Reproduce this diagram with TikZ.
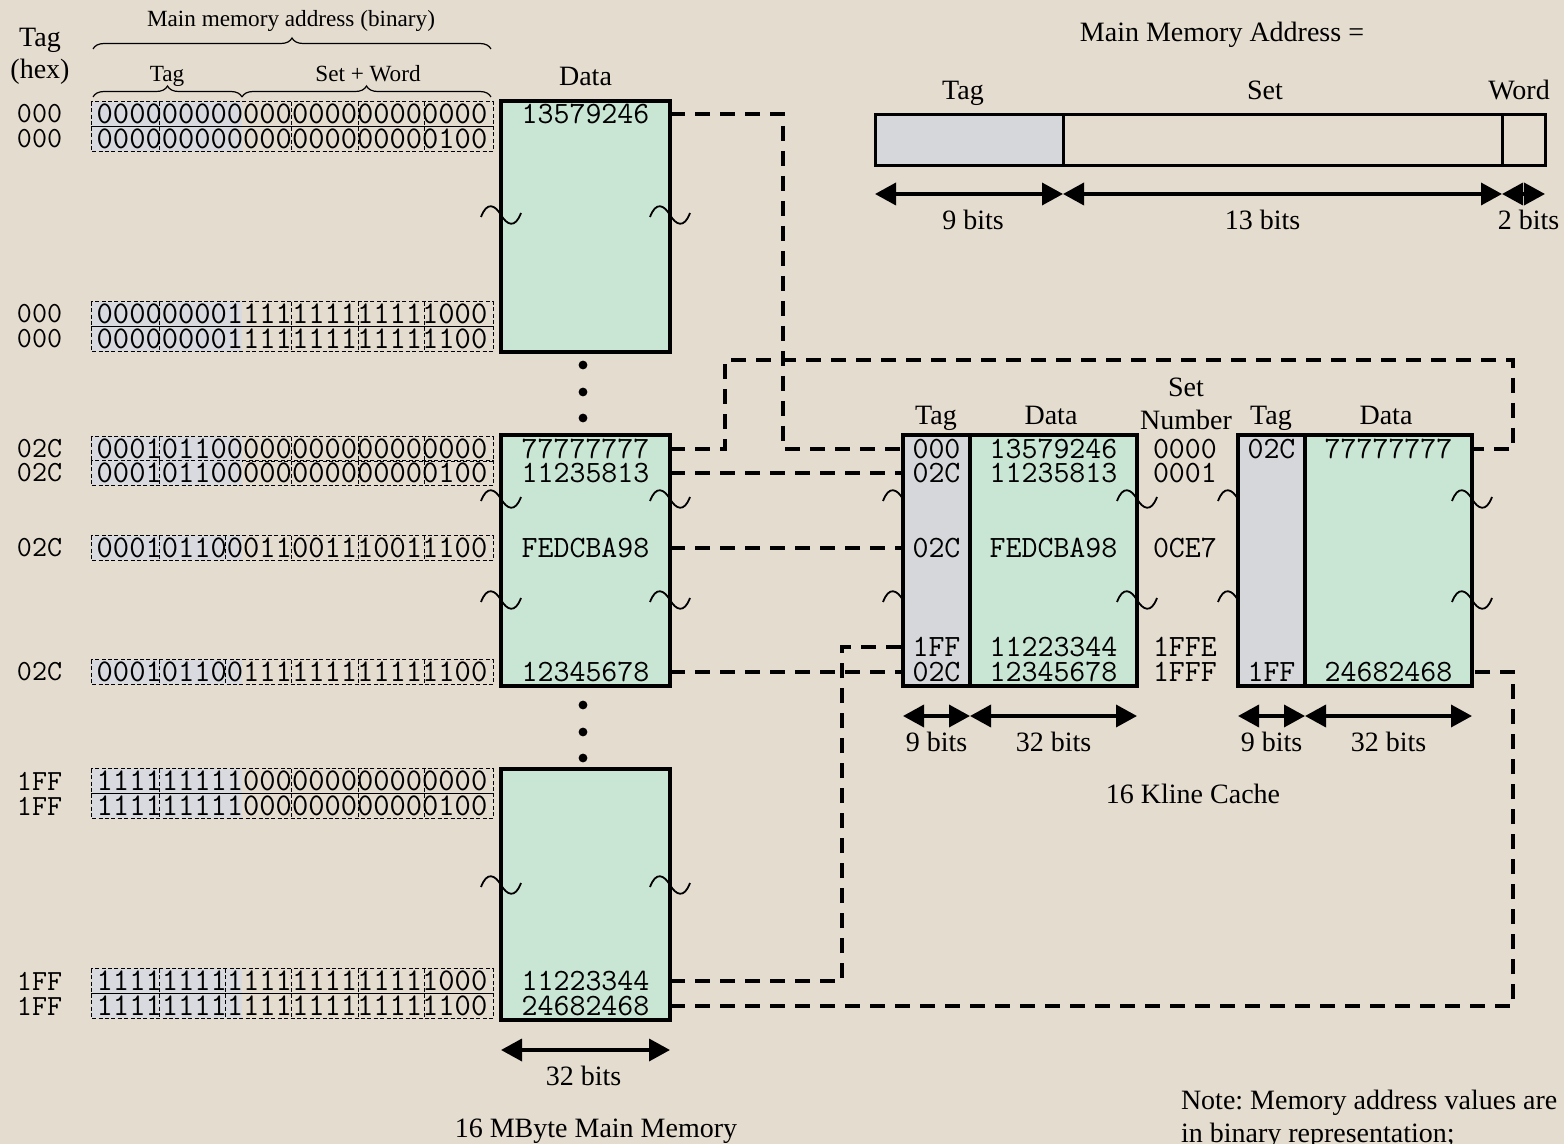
\documentclass[tikz,border=0pt]{standalone}
\usepackage{fontspec}
\setmainfont{Liberation Serif}
\usepackage{xcolor}
\usetikzlibrary{positioning, arrows.meta, decorations.pathreplacing, calc}

\definecolor{paper}{RGB}{228,220,206}
\definecolor{cellgreen}{RGB}{201,229,212}
\definecolor{tagfill}{RGB}{214,215,218}
\definecolor{binfill}{RGB}{216,218,223}

\tikzset{
  wavebreak/.pic={
    \draw[line width=0.9pt] (-20,2) .. controls (-14,-14) and (-6,-10) .. (0,0)
      .. controls (6,10) and (14,14) .. (20,-2);
  }
}

\begin{document}
\frenchspacing
\begin{tikzpicture}[
    x=0.5pt, y=-0.5pt,
    >={Triangle[length=10.5pt, width=11pt]},
    every node/.style={inner sep=0pt, outer sep=0pt},
    txt/.style={font=\fontsize{14}{16.5}\selectfont},
    smalltxt/.style={font=\fontsize{11.6}{13}\selectfont},
    mono/.style={font=\fontsize{15.5}{17}\selectfont\ttfamily},
    hexcol/.style={font=\fontsize{14.6}{17}\selectfont\ttfamily, anchor=west},
    binmono/.style={font=\fontsize{15.8}{17}\selectfont\ttfamily},
    bitsep/.style={line width=0.5pt, dash pattern=on 2pt off 1.2pt},
    bitbrace/.style={decorate, decoration={brace, amplitude=5.5pt}, line width=0.6pt},
    membox/.style={draw, line width=2pt, fill=cellgreen, minimum width=84.5pt, minimum height=125.5pt},
    tagcol/.style={draw, line width=1.8pt, fill=tagfill, minimum width=33.5pt, minimum height=125.5pt},
    datacol/.style={draw, line width=1.8pt, fill=cellgreen, minimum width=83.5pt, minimum height=125.5pt},
    fmtbox/.style={draw, line width=1.5pt, minimum height=25.5pt},
    memcell/.style={mono, minimum width=84.5pt},
    tagcell/.style={mono, minimum width=33.5pt},
    datacell/.style={mono, minimum width=83.5pt},
    memlink/.style={line width=2pt, dash pattern=on 7.5pt off 5pt},
    dimarrow/.style={<->, line width=1.8pt},
]

% === Page ===
\fill[paper] (0,0) rectangle (1564,1144);
\useasboundingbox (0,0) rectangle (1564,1144);

% === Main memory: address columns ===
\node[txt, anchor=base] (taghex) at (40,47) {Tag};
\node[txt, anchor=base] (hexlbl) at (40,79) {(hex)};
\node[smalltxt, anchor=base] (addrlbl) at (291,27) {Main memory address (binary)};
\node[smalltxt, anchor=base] (taglbl) at (167,82) {Tag};
\node[smalltxt, anchor=base] (setwordlbl) at (368,82) {Set + Word};
\draw[bitbrace] (93,49) -- (491,49);
\draw[bitbrace] (93,97) -- (242,97);
\draw[bitbrace] (242,97) -- (491,97);

% --- binary rows, tag bits shaded ---
\foreach \y/\bits/\hex/\seps in {
    114/000000000000000000000000/000/{4,12,16,20},
    139/000000000000000000000100/000/{4,12,16,20},
    314/000000001111111111111000/000/{4,12,16,20},
    339/000000001111111111111100/000/{4,12,16,20},
    449/000101100000000000000000/02C/{4,12,16,20},
    473/000101100000000000000100/02C/{4,12,16,20},
    548/000101100011001110011100/02C/{4,8,12,16,20},
    672/000101100111111111111100/02C/{4,8,12,16,20},
    781/111111111000000000000000/1FF/{4,12,16,20},
    806/111111111000000000000100/1FF/{4,12,16,20},
    981/111111111111111111111000/1FF/{4,8,12,16,20},
    1006/111111111111111111111100/1FF/{4,8,12,16,20}}{
  \fill[binfill] (91,\y-12.25) rectangle (242,\y+12.25);
  \draw[bitsep] (91,\y-12.25) rectangle (493,\y+12.25);
  \node[binmono] (bin\y) at (292,\y) {\bits};
  \foreach \k in \seps
    \draw[bitsep] (92.9+\k*16.59,\y-12.25) -- (92.9+\k*16.59,\y+12.25);
  \node[hexcol] (hex\y) at (17,\y) {\hex};
}

% === Main memory: data ===
\node[membox] (mem1) at (585.5,226.5) {};
\node[membox] (mem2) at (585.5,560.5) {};
\node[membox] (mem3) at (585.5,894.5) {};
\node[txt, above=7.5pt of mem1] (memdata) {Data};

\node[memcell] (m1a) at (585.5,114) {13579246};
\node[memcell] (m2a) at (585.5,449) {77777777};
\node[memcell] (m2b) at (585.5,473) {11235813};
\node[memcell] (m2c) at (585.5,548) {FEDCBA98};
\node[memcell] (m2d) at (585.5,672) {12345678};
\node[memcell] (m3a) at (585.5,981) {11223344};
\node[memcell] (m3b) at (585.5,1006) {24682468};

\foreach \y in {365,392,418,705,732,758}
  \fill (583,\y) circle (2.2pt);
\foreach \x/\y in {501/215,670/215,501/499,670/499,501/600,670/600,501/885,670/885}
  \pic at (\x,\y) {wavebreak};

\draw[dimarrow] ([yshift=-15pt]mem3.south west) -- ([yshift=-15pt]mem3.south east)
    node[midway, below=8pt, txt, xshift=-1pt] {32 bits};
\node[txt, anchor=base] (memtitle) at (596,1137) {16 MByte Main Memory};

% === Cache (two ways) ===
\foreach \x in {903,1238}
  \foreach \y in {499,600}
    \pic at (\x,\y) {wavebreak};
\node[tagcol] (w0tag) at (936.5,560.5) {};
\node[datacol] (w0data) at (1053.5,560.5) {};
\node[tagcol] (w1tag) at (1271.5,560.5) {};
\node[datacol] (w1data) at (1388.5,560.5) {};
\foreach \x in {1137,1472}
  \foreach \y in {499,600}
    \pic at (\x,\y) {wavebreak};

\node[txt, anchor=base] at (936,425) {Tag};
\node[txt, anchor=base] at (1051,425) {Data};
\node[txt, anchor=base] at (1186,397) {Set};
\node[txt, anchor=base] at (1186,430) {Number};
\node[txt, anchor=base] at (1271,425) {Tag};
\node[txt, anchor=base] at (1386,425) {Data};

\foreach \n/\y/\t/\d/\s in {0/449/000/13579246/0000, 1/473/02C/11235813/0001,
    2/548/02C/FEDCBA98/0CE7, 3/647/1FF/11223344/1FFE, 4/672/02C/12345678/1FFF}{
  \node[tagcell] (w0t\n) at (936.5,\y) {\t};
  \node[datacell] (w0d\n) at (1053.5,\y) {\d};
  \node[mono, anchor=west] (set\n) at (1153,\y) {\s};
}
\node[tagcell] (w1t0) at (1271.5,449) {02C};
\node[datacell] (w1d0) at (1388.5,449) {77777777};
\node[tagcell] (w1t4) at (1271.5,672) {1FF};
\node[datacell] (w1d4) at (1388.5,672) {24682468};

\foreach \c/\w in {w0tag/9, w0data/32, w1tag/9, w1data/32}
  \draw[dimarrow] ([yshift=-15pt]\c.south west) -- ([yshift=-15pt]\c.south east)
      node[midway, below=8pt, txt] {\w\ bits};
\node[txt, anchor=base] (cachetitle) at (1193,803) {16 Kline Cache};

% === Address format ===
\node[txt, anchor=base] (fmttitle) at (1222,42) {Main Memory Address =};
\node[fmtbox, fill=tagfill, minimum width=94pt] (ftag) at (969,140.5) {};
\node[fmtbox, minimum width=219.5pt] (fset) at (1282.5,140.5) {};
\node[fmtbox, minimum width=21.5pt] (fword) at (1523.5,140.5) {};
\node[txt, anchor=base] at (963,100) {Tag};
\node[txt, anchor=base] at (1265,100) {Set};
\node[txt, anchor=base] at (1519,100) {Word};
\foreach \c/\w/\dx in {ftag/9/2pt, fset/13/-10pt, fword/2/2.5pt}
  \draw[dimarrow] ([yshift=-14pt]\c.south west) -- ([yshift=-14pt]\c.south east)
      node[midway, below=8pt, txt, xshift=\dx] {\w\ bits};

% === Mapping links ===
\coordinate (looptop) at (1513,360);
\draw[memlink] (m1a.east) -- ++(113,0) |- (w0t0.west);
\draw[memlink] (m2a.east) -- ++(55,0) |- (looptop) |- (w1d0.east);
\draw[memlink] (m2b.east) -- (w0t1.west);
\draw[memlink] (m2c.east) -- (w0t2.west);
\draw[memlink] (m2d.east) -- (w0t4.west);
\draw[memlink] (m3a.east) -- ++(172,0) |- (w0t3.west);
\draw[memlink] (m3b.east) -| (looptop |- w1d4.east) -- (w1d4.east);

\node[txt, align=left, anchor=north west] (note) at (1181,1090)
    {Note: Memory address values are\\in binary representation;};

\end{tikzpicture}
\end{document}
